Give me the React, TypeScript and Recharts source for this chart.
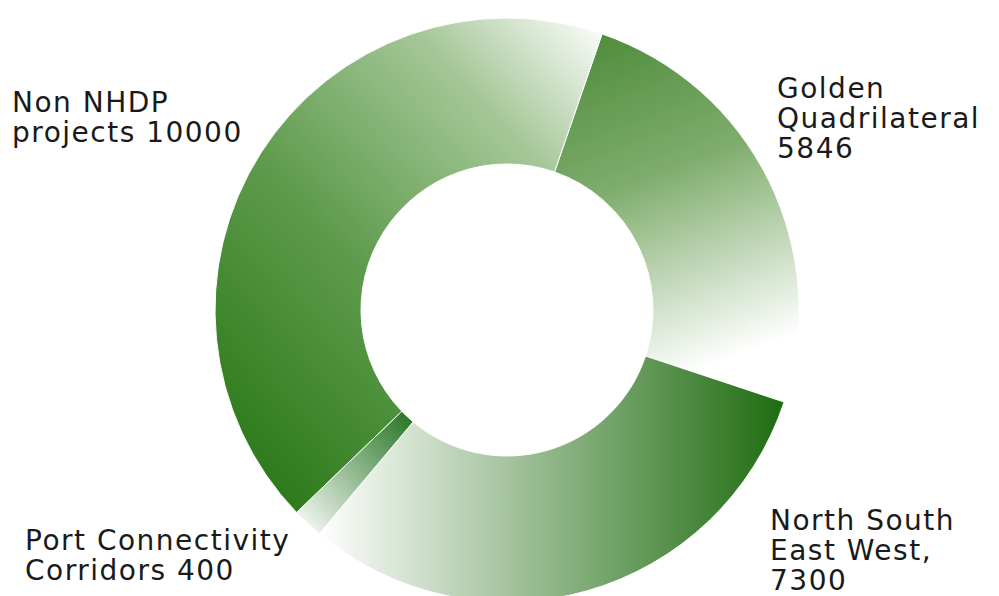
import { PieChart, Pie, Cell } from "recharts";

// slices go clockwise starting at the top-right split
const names = ["Golden Quadrilateral", "North South East West", "Port Connectivity Corridors", "Non NHDP projects"];
const values = [5846, 7300, 400, 10000];
const labelLines = [
  ["Golden", "Quadrilateral", "5846"],
  ["North South", "East West,", "7300"],
  ["Port Connectivity", "Corridors 400"],
  ["Non NHDP", "projects 10000"],
];

const data = names.map((name, i) => ({ name, value: values[i] }));

// label block offsets from the chart centre (left edge, first baseline)
const labelOffset = [
  { dx: 270, dy: -212 },
  { dx: 263, dy: 220 },
  { dx: -482, dy: 240 },
  { dx: -495, dy: -198 },
];

const gradients = [
  { id: "gGQ", x1: 0, y1: 0, x2: 0.25, y2: 1, stops: [["0%", "#4b8a37"], ["45%", "#7eac6c"], ["100%", "#ffffff"]] },
  { id: "gNS", x1: 0, y1: 0, x2: 1, y2: 0, stops: [["0%", "#ffffff"], ["100%", "#1f6c10"]] },
  { id: "gPC", x1: 1, y1: 0, x2: 0, y2: 1, stops: [["0%", "#237220"], ["100%", "#ffffff"]] },
  { id: "gNN", x1: 1, y1: 0, x2: 0.15, y2: 1, stops: [["0%", "#ffffff"], ["25%", "#a5c798"], ["60%", "#5e9b4c"], ["100%", "#2a7818"]] },
];

const START = 71;

function renderLabel(props: any) {
  const { cx, cy, index } = props;
  const off = labelOffset[index];
  return (
    <text
      key={index}
      x={cx + off.dx}
      y={cy + off.dy}
      fill="#1a1a1a"
      fontSize={28}
      letterSpacing={1.5}
      fontFamily="'DejaVu Sans', sans-serif"
      textAnchor="start"
    >
      {labelLines[index].map((line, j) => (
        <tspan key={j} x={cx + off.dx} dy={j === 0 ? 0 : 30}>
          {line}
        </tspan>
      ))}
    </text>
  );
}

export default function App() {
  return (
    <div style={{ position: "absolute", left: 0, top: 0, background: "#fff" }}>
      <PieChart width={999} height={596}>
        <defs>
          {gradients.map((g) => (
            <linearGradient key={g.id} id={g.id} x1={g.x1} y1={g.y1} x2={g.x2} y2={g.y2}>
              {g.stops.map(([o, c]) => (
                <stop key={o} offset={o} stopColor={c} />
              ))}
            </linearGradient>
          ))}
        </defs>
        <Pie
          data={data}
          dataKey="value"
          nameKey="name"
          cx={502}
          cy={305}
          innerRadius={146}
          outerRadius={292}
          startAngle={START}
          endAngle={START - 360}
          stroke="#ffffff"
          strokeWidth={1}
          label={renderLabel}
          labelLine={false}
          isAnimationActive={false}
        >
          {data.map((d, i) => (
            <Cell key={d.name} fill={`url(#${gradients[i].id})`} />
          ))}
        </Pie>
      </PieChart>
    </div>
  );
}
